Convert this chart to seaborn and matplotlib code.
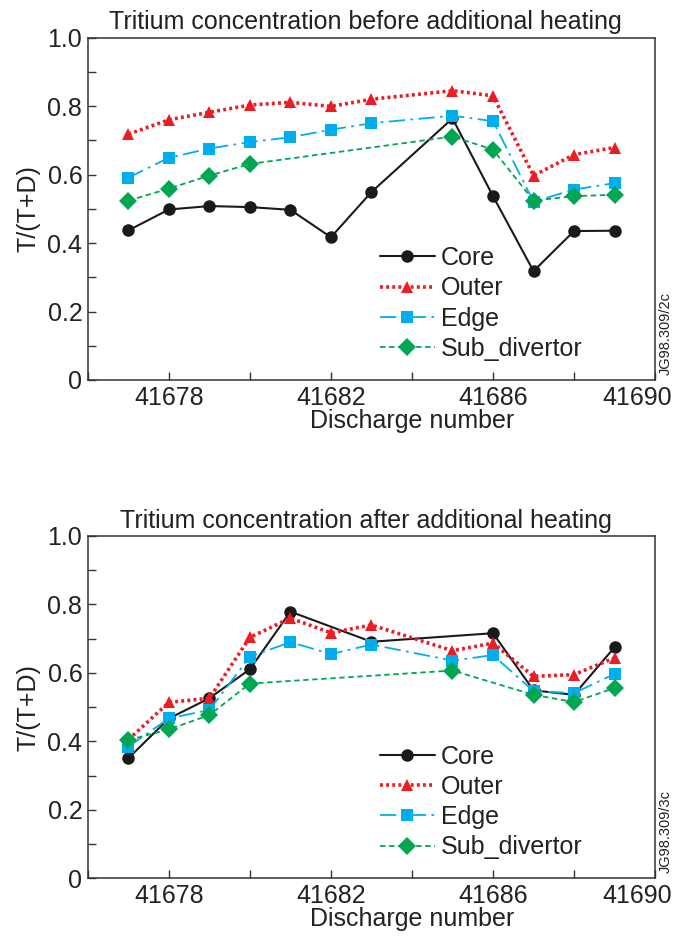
import numpy as np
import pandas as pd
import seaborn as sns
import matplotlib.pyplot as plt
from matplotlib.transforms import ScaledTranslation

sns.set_style('ticks')
plt.rcParams['font.family'] = ['Liberation Sans', 'DejaVu Sans']

# before additional heating
pre_shots = [41677, 41678, 41679, 41680, 41681, 41682, 41683, 41685, 41686, 41687, 41688, 41689]
pre_core = [0.437, 0.498, 0.508, 0.505, 0.497, 0.417, 0.549, 0.764, 0.537, 0.318, 0.435, 0.436]
pre_outer = [0.718, 0.760, 0.782, 0.803, 0.811, 0.799, 0.820, 0.845, 0.830, 0.597, 0.658, 0.679]
pre_edge = [0.591, 0.649, 0.676, 0.695, 0.709, 0.731, 0.750, 0.772, 0.756, 0.521, 0.556, 0.575]
pre_sub_shots = [41677, 41678, 41679, 41680, 41685, 41686, 41687, 41688, 41689]
pre_sub = [0.524, 0.559, 0.597, 0.631, 0.711, 0.673, 0.524, 0.537, 0.541]

# after additional heating
post_core_shots = [41677, 41678, 41679, 41680, 41681, 41683, 41686, 41687, 41688, 41689]
post_core = [0.351, 0.467, 0.526, 0.611, 0.779, 0.691, 0.716, 0.549, 0.536, 0.675]
post_shots = [41677, 41678, 41679, 41680, 41681, 41682, 41683, 41685, 41686, 41687, 41688, 41689]
post_outer = [0.405, 0.514, 0.526, 0.704, 0.760, 0.717, 0.740, 0.665, 0.687, 0.590, 0.595, 0.644]
post_edge = [0.385, 0.467, 0.492, 0.647, 0.690, 0.655, 0.683, 0.636, 0.652, 0.547, 0.541, 0.597]
post_sub_shots = [41677, 41678, 41679, 41680, 41685, 41687, 41688, 41689]
post_sub = [0.404, 0.435, 0.477, 0.569, 0.607, 0.536, 0.515, 0.556]

series_names = ['Core', 'Outer', 'Edge', 'Sub_divertor']
colors = {'Core': '#1a1a1a', 'Outer': '#ec1c24', 'Edge': '#00aeef', 'Sub_divertor': '#00a651'}
markers = {'Core': 'o', 'Outer': '^', 'Edge': 's', 'Sub_divertor': 'D'}
msizes = {'Core': 9, 'Outer': 9, 'Edge': 9, 'Sub_divertor': 9.5}
lstyles = {'Core': '-', 'Outer': (0, (0.8, 0.9)), 'Edge': (0, (9, 3, 1.5, 3)), 'Sub_divertor': (0, (3, 2))}
lwidths = {'Core': 1.5, 'Outer': 2.6, 'Edge': 1.3, 'Sub_divertor': 1.3}

panels = [
    ('Tritium concentration before additional heating', 'JG98.309/2c',
     {'Core': (pre_shots, pre_core), 'Outer': (pre_shots, pre_outer),
      'Edge': (pre_shots, pre_edge), 'Sub_divertor': (pre_sub_shots, pre_sub)}),
    ('Tritium concentration after additional heating', 'JG98.309/3c',
     {'Core': (post_core_shots, post_core), 'Outer': (post_shots, post_outer),
      'Edge': (post_shots, post_edge), 'Sub_divertor': (post_sub_shots, post_sub)}),
]

fig = plt.figure(figsize=(6.76, 9.38), dpi=100)
ax_rects = [[0.130, 0.5949, 0.839, 0.365], [0.130, 0.0636, 0.839, 0.365]]
spine_col = '#333333'
txt_col = '#222222'
fs = 18

for rect, (title, code, data) in zip(ax_rects, panels):
    ax = fig.add_axes(rect)
    for name in series_names:
        xs, ys = data[name]
        df = pd.DataFrame({'shot': xs, 'ratio': ys})
        sns.lineplot(data=df, x='shot', y='ratio', ax=ax, color=colors[name],
                     marker=markers[name], markersize=msizes[name], markeredgewidth=0,
                     linestyle=lstyles[name], linewidth=lwidths[name], label=name)
    ax.set_xlim(41676, 41690)
    ax.set_ylim(0, 1.0)
    ax.set_xticks([41678, 41682, 41686, 41690])
    ax.set_xticklabels(['41678', '41682', '41686', '41690'])
    ax.set_xticks([41676, 41680, 41684, 41688], minor=True)
    ax.set_yticks([0, 0.2, 0.4, 0.6, 0.8, 1.0])
    ax.set_yticklabels(['0', '0.2', '0.4', '0.6', '0.8', '1.0'])
    ax.set_yticks(np.arange(0.1, 1.0, 0.2), minor=True)
    ax.tick_params(which='both', direction='in', length=6, width=1, color=spine_col,
                   labelsize=fs, labelcolor=txt_col, pad=4)
    # last x label sits a bit inside the figure, as in the original
    last = ax.get_xticklabels()[-1]
    last.set_transform(last.get_transform() + ScaledTranslation(-0.18, 0, fig.dpi_scale_trans))
    for s in ax.spines.values():
        s.set_color(spine_col)
        s.set_linewidth(1.1)
    ax.set_title(title, fontsize=fs, color=txt_col, pad=6, x=0.49)
    ax.set_xlabel('Discharge number', fontsize=fs, color=txt_col, labelpad=1)
    ax.xaxis.set_label_coords(0.572, -0.085)
    ax.set_ylabel('T/(T+D)', fontsize=fs, color=txt_col, labelpad=5)
    ax.legend(loc='upper left', bbox_to_anchor=(0.497, 0.42), frameon=False,
              fontsize=fs, handlelength=2.2, handletextpad=0.25, labelspacing=0.25,
              borderaxespad=0, labelcolor=txt_col)
    fig.text(0.985, rect[1] + 0.05, code, rotation=90, fontsize=10.5,
             color=txt_col, ha='center', va='center')

fig.savefig('out.png', dpi=100)
